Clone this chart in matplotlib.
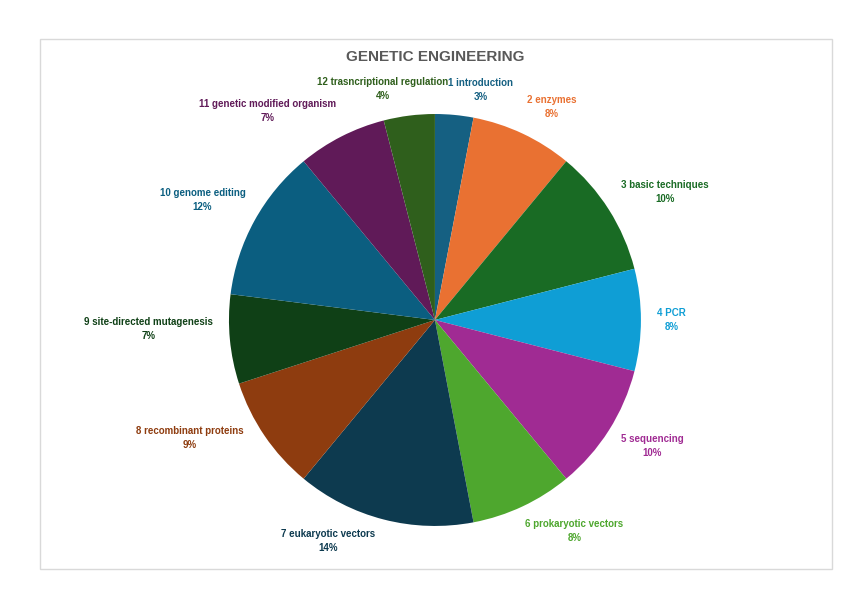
import numpy as np
import matplotlib
matplotlib.use("Agg")
import matplotlib.pyplot as plt
from matplotlib.patches import Rectangle

# chart data
topics = ["1 introduction", "2 enzymes", "3 basic techniques", "4 PCR",
          "5 sequencing", "6 prokaryotic vectors", "7 eukaryotic vectors",
          "8 recombinant proteins", "9 site-directed mutagenesis",
          "10 genome editing", "11 genetic modified organism",
          "12 trasncriptional regulation"]
shares = [3, 8, 10, 8, 10, 8, 14, 9, 7, 12, 7, 4]

colors = ["#156082", "#E97132", "#196B24", "#0F9ED5", "#A02B93", "#4EA72E",
          "#0D3A4F", "#8E3C0F", "#0F4016", "#0B5E80", "#601A58", "#2F5F1C"]

# label layout: radius (in pie radii) and clockwise angle tweak from wedge middle
label_r = [1.14, 1.18, 1.28, 1.15, 1.22, 1.23, 1.19, 1.32, 1.39, 1.27, 1.30, 1.15]
label_dang = [5.9, 3.6, 3.3, 0.0, -2.2, -8.2, 11.4, 8.5, 3.6, -1.5, -11.7, -5.5]

plt.rcParams['font.family'] = ['Liberation Sans', 'DejaVu Sans']

fig = plt.figure(figsize=(8.48, 5.99), dpi=100)
fig.patches.append(Rectangle((40 / 848, 1 - 569 / 599), 792 / 848, 530 / 599,
                             transform=fig.transFigure, fill=False,
                             edgecolor="#d9d9d9", linewidth=1))

ax = fig.add_axes([0.2700, 0.1219, 0.4858, 0.6878])
wedges, _ = ax.pie(shares, colors=colors, startangle=90, counterclock=False,
                   radius=1, wedgeprops=dict(linewidth=0))
ax.set_xlim(-1, 1)
ax.set_ylim(-1, 1)
ax.set_aspect("equal")
ax.axis("off")

total = sum(shares)
for w, name, val, r, da, c in zip(wedges, topics, shares, label_r, label_dang, colors):
    mid = np.deg2rad((w.theta1 + w.theta2) / 2 - da)
    ax.text(r * np.cos(mid), r * np.sin(mid),
            f"{name}\n{round(val / total * 100)}%",
            ha="center", va="center", fontsize=7, fontweight="bold",
            color=c, linespacing=1.5, clip_on=False)

fig.text(435 / 848, 1 - 57 / 599, "GENETIC ENGINEERING", ha="center",
         va="center", fontsize=11, fontweight="bold", color="#595959")

fig.savefig("out.png", dpi=100)
